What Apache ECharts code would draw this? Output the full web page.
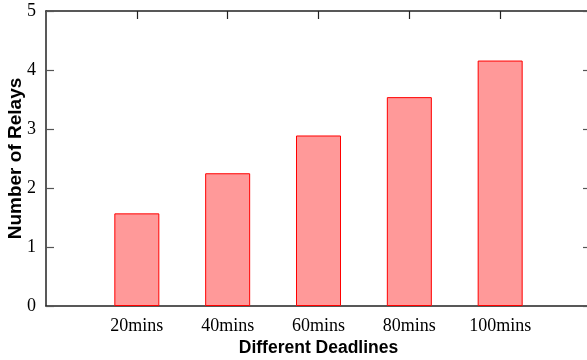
<!DOCTYPE html>
<html><head><meta charset="utf-8">
<script src="https://cdn.jsdelivr.net/npm/echarts@6/dist/echarts.min.js"></script>
<style>html,body{margin:0;padding:0;background:#fff}#c{width:587px;height:360px}</style>
</head><body><div id="c"></div>
<script>
const categories = ['20mins', '40mins', '60mins', '80mins', '100mins'];
const relays = [1.57, 2.25, 2.89, 3.54, 4.16];
const yTicks = [0, 1, 2, 3, 4, 5];

const padCats = [''].concat(categories, ['']);
const padVals = ['-'].concat(relays, ['-']);
const showTick = (i) => i >= 1 && i <= categories.length;
const axisLine = { show: true, onZero: false, lineStyle: { color: '#222', width: 1.5 } };
const chart = echarts.init(document.getElementById('c'), null, { renderer: 'canvas' });
chart.setOption({
  animation: false,
  grid: { left: 46, top: 11, width: 545, height: 295, containLabel: false, outerBoundsMode: 'none' },
  xAxis: [
    { type: 'category', data: padCats, boundaryGap: false, position: 'bottom',
      axisLine, axisTick: { show: false },
      axisLabel: { interval: 0, color: '#000', fontFamily: 'Liberation Serif', fontSize: 18, margin: 11, hideOverlap: false },
      name: 'Different Deadlines', nameLocation: 'middle', nameGap: 33, nameMoveOverlap: false,
      nameTextStyle: { fontFamily: 'Liberation Sans', fontWeight: 'bold', fontSize: 17.5, color: '#000' },
      splitLine: { show: false } },
    { type: 'category', data: padCats, boundaryGap: false, position: 'top',
      axisLine, axisTick: { show: true, inside: true, length: 8, interval: (i) => showTick(i), lineStyle: { color: '#222', width: 1.2 } },
      axisLabel: { show: false }, splitLine: { show: false } }
  ],
  yAxis: [
    { type: 'value', min: yTicks[0], max: yTicks[yTicks.length - 1], interval: 1, position: 'left',
      axisLine, axisTick: { show: true, inside: true, length: 8, lineStyle: { color: '#555', width: 1.2 } },
      axisLabel: { color: '#000', fontFamily: 'Liberation Serif', fontSize: 18, margin: 10 },
      name: 'Number of Relays', nameLocation: 'middle', nameGap: 21, nameRotate: 90, nameMoveOverlap: false,
      nameTextStyle: { fontFamily: 'Liberation Sans', fontWeight: 'bold', fontSize: 19, color: '#000' },
      splitLine: { show: false } },
    { type: 'value', min: yTicks[0], max: yTicks[yTicks.length - 1], interval: 1, position: 'right',
      axisLine, axisTick: { show: true, inside: true, length: 8, lineStyle: { color: '#555', width: 1.2 } },
      axisLabel: { show: false }, splitLine: { show: false } }
  ],
  series: [
    { type: 'bar', data: padVals, barWidth: 45, xAxisIndex: 0, yAxisIndex: 0,
      itemStyle: { color: '#ff9999', borderColor: '#ff0000', borderWidth: 1 } },
    { type: 'line', data: [], xAxisIndex: 1, yAxisIndex: 1, silent: true }
  ]
});
</script></body></html>
